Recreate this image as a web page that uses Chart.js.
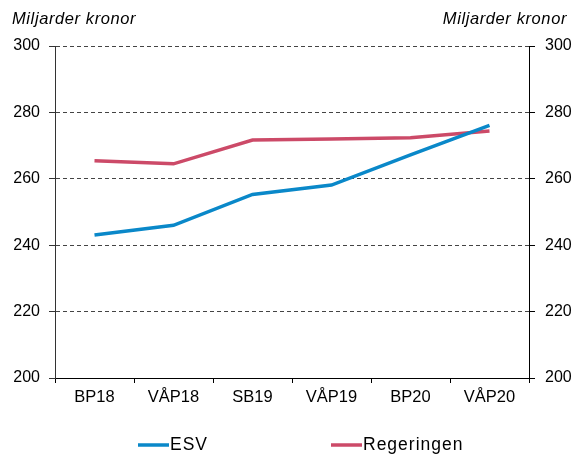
<!DOCTYPE html>
<html>
<head>
<meta charset="utf-8">
<script src="https://cdn.jsdelivr.net/npm/chart.js@4/dist/chart.umd.min.js"></script>
<style>
  html, body { margin: 0; padding: 0; background: #fff; }
  #wrap { width: 577px; height: 454px; }
</style>
</head>
<body>
<div id="wrap"><canvas id="c" width="577" height="454"></canvas></div>
<script>
const categories = ['BP18', 'VÅP18', 'SB19', 'VÅP19', 'BP20', 'VÅP20'];
const esv = [243.1, 246.0, 255.3, 258.1, 267.2, 276.1];
const regeringen = [265.4, 264.5, 271.7, 272.0, 272.4, 274.4];
const seriesNames = ['ESV', 'Regeringen'];
const unitLabel = 'Miljarder kronor';
const yMin = 200, yMax = 300, yStep = 20;

const FONT = "'Liberation Sans', Arial, sans-serif";

const overlay = {
  id: 'overlay',
  afterDraw(chart) {
    const ctx = chart.ctx;
    ctx.save();
    // unit labels
    ctx.fillStyle = '#000';
    ctx.font = "italic 16.5px " + FONT;
    if ('letterSpacing' in ctx) ctx.letterSpacing = '0.6px';
    ctx.textBaseline = 'alphabetic';
    ctx.textAlign = 'left';
    ctx.fillText(unitLabel, 12, 24);
    ctx.textAlign = 'right';
    ctx.fillText(unitLabel, 567, 24);
    // legend
    const items = chart.data.datasets;
    const xs = [138, 331];
    ctx.font = "17.5px " + FONT;
    if ('letterSpacing' in ctx) ctx.letterSpacing = '1px';
    ctx.textAlign = 'left';
    ctx.textBaseline = 'middle';
    items.forEach((ds, i) => {
      const x = xs[i];
      const y = 445;
      ctx.strokeStyle = ds.borderColor;
      ctx.lineWidth = 3.5;
      ctx.beginPath();
      ctx.moveTo(x, y);
      ctx.lineTo(x + 31, y);
      ctx.stroke();
      ctx.fillStyle = '#000';
      ctx.fillText(ds.label, x + 32, y + 0.5);
    });
    ctx.restore();
  }
};

const yCommon = {
  type: 'linear',
  min: yMin,
  max: yMax,
  ticks: { stepSize: yStep, color: '#000', font: { family: FONT, size: 16 } },
};

new Chart(document.getElementById('c'), {
  type: 'line',
  data: {
    labels: categories,
    datasets: [
      { label: seriesNames[0], data: esv, borderColor: '#0a88c9', backgroundColor: '#0a88c9',
        borderWidth: 3.5, pointRadius: 0, tension: 0, yAxisID: 'y' },
      { label: seriesNames[1], data: regeringen, borderColor: '#cc4a68', backgroundColor: '#cc4a68',
        borderWidth: 3.5, pointRadius: 0, tension: 0, yAxisID: 'y' }
    ]
  },
  options: {
    responsive: false,
    animation: false,
    layout: { padding: { left: 0, right: 0, top: 46, bottom: 0 } },
    plugins: { legend: { display: false }, tooltip: { enabled: false }, title: { display: false } },
    scales: {
      x: {
        type: 'category',
        offset: true,
        grid: { offset: true, drawOnChartArea: false, drawTicks: true, tickLength: 5, color: '#000', tickColor: '#000' },
        border: { display: true, color: '#000', width: 1 },
        ticks: { color: '#000', padding: 5, maxRotation: 0, autoSkip: false, font: { family: FONT, size: 16.5 } },
        afterFit(s) { s.height = 76; }
      },
      y: Object.assign({}, yCommon, {
        position: 'left',
        grid: {
          drawOnChartArea: true, drawTicks: true, tickLength: 6,
          color: (c) => (c.tick && c.tick.value === yMin) ? 'rgba(0,0,0,0)' : '#444',
          tickColor: '#333', lineWidth: 1
        },
        border: { display: true, color: '#333', width: 1, dash: [4, 3] },
        ticks: Object.assign({}, yCommon.ticks, { padding: 9 }),
        afterFit(s) { s.width = 55; }
      }),
      y2: Object.assign({}, yCommon, {
        position: 'right',
        grid: { drawOnChartArea: false, drawTicks: true, tickLength: 6, tickColor: '#000', color: '#000' },
        border: { display: true, color: '#000', width: 1 },
        ticks: Object.assign({}, yCommon.ticks, { padding: 10 }),
        afterFit(s) { s.width = 48; }
      })
    }
  },
  plugins: [overlay]
});
</script>
</body>
</html>
